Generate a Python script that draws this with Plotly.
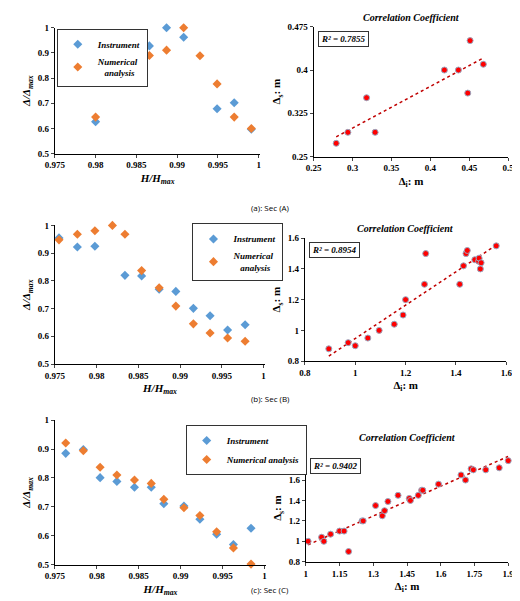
import numpy as np
import plotly.graph_objects as go

# ── data ────────────────────────────────────────────────
A_INS_X = [0.980, 0.9846, 0.9866, 0.9887, 0.9908, 0.9949, 0.997, 0.9991]
A_INS_Y = [0.627, 0.955, 0.928, 1.0, 0.962, 0.678, 0.702, 0.597]
A_NUM_X = [0.980, 0.9846, 0.9866, 0.9887, 0.9908, 0.9928, 0.9949, 0.997, 0.9991]
A_NUM_Y = [0.645, 0.80, 0.89, 0.911, 1.0, 0.889, 0.777, 0.645, 0.60]
A_COR_X = [0.279, 0.294, 0.318, 0.329, 0.418, 0.436, 0.448, 0.451, 0.468]
A_COR_Y = [0.273, 0.292, 0.352, 0.292, 0.40, 0.40, 0.36, 0.451, 0.41]

B_INS_X = [0.9755, 0.9777, 0.9798, 0.9834, 0.9854, 0.9875, 0.9895, 0.9916, 0.9936, 0.9957, 0.9978]
B_INS_Y = [0.955, 0.922, 0.925, 0.820, 0.818, 0.770, 0.762, 0.701, 0.674, 0.623, 0.642]
B_NUM_X = [0.9755, 0.9777, 0.9798, 0.9819, 0.9834, 0.9854, 0.9875, 0.9895, 0.9916, 0.9936, 0.9957, 0.9978]
B_NUM_Y = [0.948, 0.968, 0.981, 1.0, 0.968, 0.837, 0.775, 0.709, 0.645, 0.612, 0.594, 0.582]
B_COR_X = [0.895, 0.972, 1.0, 1.05, 1.095, 1.155, 1.19, 1.2, 1.275, 1.28, 1.415, 1.43, 1.44, 1.445,
           1.475, 1.49, 1.492, 1.497, 1.5, 1.56]
B_COR_Y = [0.88, 0.92, 0.90, 0.95, 1.0, 1.04, 1.10, 1.2, 1.30, 1.50, 1.30, 1.42, 1.50, 1.52,
           1.46, 1.45, 1.47, 1.40, 1.44, 1.55]

C_X = [0.9763, 0.9784, 0.9804, 0.9824, 0.9845, 0.9865, 0.9880, 0.9904, 0.9923, 0.9943, 0.9963, 0.9984]
C_INS_Y = [0.885, 0.898, 0.801, 0.788, 0.768, 0.768, 0.711, 0.703, 0.657, 0.605, 0.570, 0.626]
C_NUM_Y = [0.921, 0.894, 0.837, 0.810, 0.793, 0.781, 0.726, 0.697, 0.670, 0.614, 0.558, 0.502]
C_COR_X = [1.01, 1.07, 1.08, 1.11, 1.15, 1.17, 1.19, 1.25, 1.255, 1.31, 1.34, 1.35, 1.365, 1.41,
           1.46, 1.465, 1.50, 1.515, 1.52, 1.59, 1.69, 1.71, 1.735, 1.745, 1.80, 1.86, 1.90]
C_COR_Y = [1.0, 1.04, 1.0, 1.07, 1.10, 1.10, 0.90, 1.20, 1.20, 1.35, 1.25, 1.30, 1.39, 1.45,
           1.42, 1.40, 1.45, 1.50, 1.50, 1.56, 1.65, 1.60, 1.71, 1.70, 1.70, 1.72, 1.79]

R2 = ["R² = 0.7855", "R² = 0.8954", "R² = 0.9402"]
CAPTIONS = ["(a): Sec (A)", "(b): Sec (B)", "(c): Sec (C)"]

BLUE, ORANGE = "#5b9bd5", "#ed7d31"
SERIF = "Liberation Serif"
W, H = 520, 601

fig = go.Figure()


def dom(px0, px1):
    return [px0 / W, px1 / W]


def ydom(top, bot):
    return [1 - bot / H, 1 - top / H]


def axis(domain, rng, dtick, title, anchor=None, tick0=None, italic=True):
    d = dict(domain=domain, range=rng, dtick=dtick, showgrid=False, zeroline=False,
             showline=True, linecolor="black", linewidth=1, ticks="outside", ticklen=3,
             tickfont=dict(family=SERIF, size=9, color="black", weight="bold"),
             title=dict(text=title, font=dict(family=SERIF, size=11, color="black", weight="bold",
                                             style="italic" if italic else "normal"), standoff=4),
             anchor=anchor)
    if tick0 is not None:
        d["tick0"] = tick0
    return d


left_panels = [
    (A_INS_X, A_INS_Y, A_NUM_X, A_NUM_Y, dom(38, 250), ydom(15, 143), "legend",
     dict(x=40 / W, y=1 - 16 / H), True),
    (B_INS_X, B_INS_Y, B_NUM_X, B_NUM_Y, dom(38, 255), ydom(216, 357), "legend2",
     dict(x=180 / W, y=1 - 214 / H), True),
    (C_X, C_INS_Y, C_X, C_NUM_Y, dom(38, 256), ydom(414, 561), "legend3",
     dict(x=173 / W, y=1 - 419 / H), False),
]
right_panels = [
    (A_COR_X, A_COR_Y, dom(305, 506), ydom(14, 146), [0.25, 0.5], 0.05, [0.25, 0.475], 0.075, 0.25, 0),
    (B_COR_X, B_COR_Y, dom(296, 504), ydom(229, 354), [0.8, 1.6], 0.2, [0.8, 1.6], 0.2, 0.8, 0),
    (C_COR_X, C_COR_Y, dom(297, 506), ydom(449, 558), [1.0, 1.9], 0.15, [0.8, 1.85], 0.2, 0.8, 8),
]
layout = {}
for i, (ix, iy, nx, ny, xd, yd, leg, lpos, wrap) in enumerate(left_panels):
    n = 2 * i + 1
    xa, ya = f"x{n}", f"y{n}"
    num_name = "<i>Numerical<br>   analysis</i>" if wrap else "<i>Numerical analysis</i>"
    fig.add_scatter(x=ix, y=iy, mode="markers", xaxis=xa, yaxis=ya, legend=leg, cliponaxis=False,
                    marker=dict(symbol="diamond", size=7, color=BLUE), name="<i>Instrument</i>")
    fig.add_scatter(x=nx, y=ny, mode="markers", xaxis=xa, yaxis=ya, legend=leg, cliponaxis=False,
                    marker=dict(symbol="diamond", size=7, color=ORANGE), name=num_name)
    layout[f"xaxis{n}"] = axis(xd, [0.975, 1.0002], 0.005, "H/H<sub>max</sub>", anchor=ya, tick0=0.975)
    layout[f"yaxis{n}"] = axis(yd, [0.5, 1.0], 0.1, "Δ/Δ<sub>max</sub>", anchor=xa)
    layout[leg] = dict(x=lpos["x"], y=lpos["y"], xanchor="left", yanchor="top",
                       bgcolor="white", bordercolor="#333", borderwidth=1,
                       font=dict(family=SERIF, size=9, color="black", weight="bold"),
                       tracegroupgap=4, itemsizing="trace", itemwidth=30)

for i, (cx, cy, xd, yd, xr, xdt, yr, ydt, y0, tshift) in enumerate(right_panels):
    n = 2 * i + 2
    xa, ya = f"x{n}", f"y{n}"
    k, b = np.polyfit(cx, cy, 1)
    tx = np.array([min(cx), max(cx)])
    fig.add_scatter(x=tx, y=k * tx + b, mode="lines", xaxis=xa, yaxis=ya, showlegend=False,
                    line=dict(color="#c00000", dash="dot", width=1.5))
    fig.add_scatter(x=cx, y=cy, mode="markers", xaxis=xa, yaxis=ya, showlegend=False, cliponaxis=False,
                    marker=dict(size=6, color="red", line=dict(color="#9aa7c0", width=1)))
    layout[f"xaxis{n}"] = axis(xd, [xr[0], xr[1] * 1.0005], xdt, "Δ<sub>i</sub>: m", anchor=ya,
                               tick0=xr[0], italic=False)
    layout[f"yaxis{n}"] = axis(yd, yr, ydt, "Δ<sub>s</sub>: m", anchor=xa, tick0=y0, italic=False)
    fig.add_annotation(xref=f"{xa} domain", yref=f"{ya} domain", x=0.5, y=1.0,
                       yanchor="bottom", yshift=2 + tshift, showarrow=False,
                       text="<b><i>Correlation Coefficient</i></b>",
                       font=dict(family=SERIF, size=10, color="black"))
    fig.add_annotation(xref=f"{xa} domain", yref=f"{ya} domain", x=0.02, y=0.97,
                       xanchor="left", yanchor="top", showarrow=False,
                       text=f"<b><i>{R2[i]}</i></b>", bordercolor="#333", borderwidth=1,
                       borderpad=2, bgcolor="white",
                       font=dict(family=SERIF, size=9, color="black"))

for cap, py in zip(CAPTIONS, [190, 392, 594]):
    fig.add_annotation(xref="paper", yref="paper", x=0.5, y=1 - py / H, showarrow=False,
                       text=cap, font=dict(family="Open Sans", size=8, color="black"))

fig.update_layout(width=W, height=H, margin=dict(l=0, r=0, t=0, b=0),
                  plot_bgcolor="white", paper_bgcolor="white", **layout)
fig.write_html("out.html")
